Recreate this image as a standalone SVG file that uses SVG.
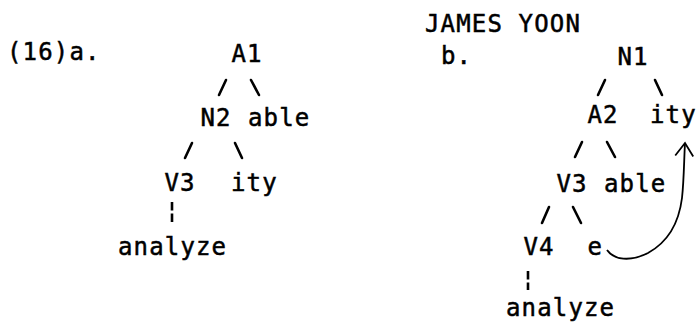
<svg xmlns="http://www.w3.org/2000/svg" width="697" height="322" viewBox="0 0 697 322">
<style>
text{font-family:"DejaVu Sans Mono","Liberation Mono",monospace;font-size:24px;letter-spacing:1.15px;fill:#000;stroke:#000;stroke-width:0.5px}
.c{stroke:#000;stroke-width:2.6;stroke-linecap:round;fill:none}
.bar{stroke:#000;stroke-width:2.6;stroke-dasharray:8.5 3;fill:none}
.arc{stroke:#000;stroke-width:1.8;fill:none}
</style>
<defs>
<marker id="open" viewBox="0 0 14 18" refX="13" refY="9" markerWidth="14" markerHeight="18" markerUnits="userSpaceOnUse" orient="auto" overflow="visible">
<path d="M0,0 L13,9 L0,18" fill="none" stroke="#000" stroke-width="1.8" stroke-linejoin="miter"/>
</marker>
</defs>
<rect width="697" height="322" fill="#fff"/>
<g id="labels">
<text x="7" y="60">(16)a.</text>
<text x="425" y="32">JAMES YOON</text>
<text x="441" y="64">b.</text>
</g>
<g id="treeA">
<g id="a-A1"><text x="231.5" y="62">A1</text></g>
<g id="a-N2"><text x="200.5" y="126">N2</text></g>
<g id="a-able"><text x="248" y="126">able</text></g>
<g id="a-V3"><text x="164.5" y="191">V3</text></g>
<g id="a-ity"><text x="231" y="191">ity</text></g>
<g id="a-analyze"><text x="118" y="255">analyze</text></g>
</g>
<g id="treeB">
<g id="b-N1"><text x="617.5" y="65">N1</text></g>
<g id="b-A2"><text x="587.5" y="123">A2</text></g>
<g id="b-ity"><text x="650" y="123">ity</text></g>
<g id="b-V3"><text x="556.5" y="192">V3</text></g>
<g id="b-able"><text x="604" y="192">able</text></g>
<g id="b-V4"><text x="523.5" y="255">V4</text></g>
<g id="b-e"><text x="587.5" y="255">e</text></g>
<g id="b-analyze"><text x="506" y="316">analyze</text></g>
</g>
<g id="connectors">
<line class="c" x1="219" y1="95" x2="226" y2="80"/>
<line class="c" x1="251" y1="80" x2="259" y2="95"/>
<line class="c" x1="185" y1="158" x2="192" y2="143"/>
<line class="c" x1="235" y1="143" x2="242" y2="158"/>
<line class="bar" x1="172" y1="202" x2="172" y2="222"/>
<line class="c" x1="598" y1="95" x2="605" y2="80"/>
<line class="c" x1="655" y1="80" x2="662" y2="95"/>
<line class="c" x1="575" y1="157" x2="582" y2="142"/>
<line class="c" x1="607" y1="142" x2="615" y2="157"/>
<line class="c" x1="542" y1="223" x2="549" y2="207"/>
<line class="c" x1="573" y1="207" x2="581" y2="223"/>
<line class="bar" x1="528" y1="271" x2="528" y2="290"/>
<path class="arc" d="M607 250 C614 260,630 262,648 253 C668 242,679 222,682 198 C684 180,684 160,685 143" marker-end="url(#open)"/>
</g>
</svg>
